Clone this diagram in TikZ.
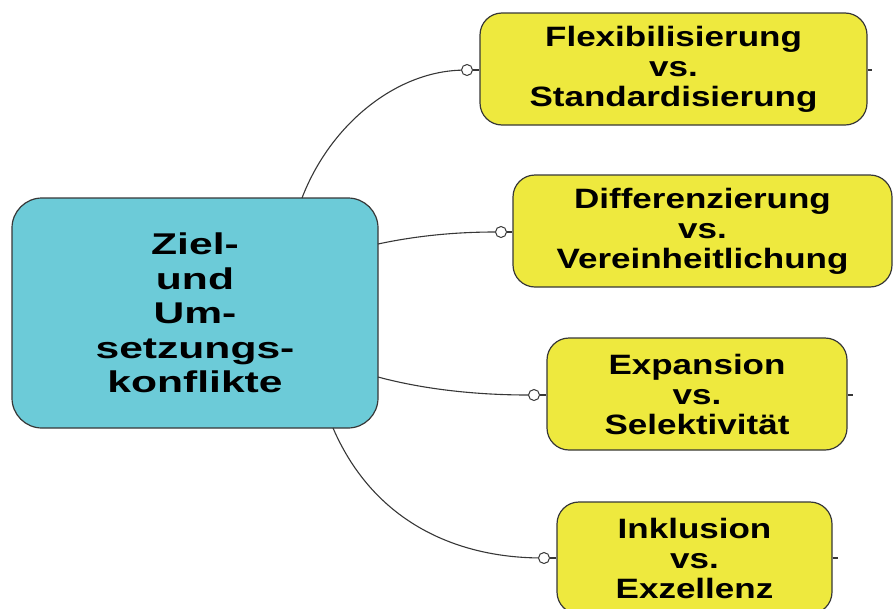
\documentclass[tikz,border=0pt]{standalone}
\usepackage{fontspec}
\setmainfont{Liberation Sans}
\newfontfamily\yfont[FakeStretch=1.25]{Liberation Sans}
\newfontfamily\mfont[FakeStretch=1.42]{Liberation Sans}
\definecolor{teal1}{RGB}{108,203,216}
\definecolor{yel1}{RGB}{238,233,62}
\definecolor{bord}{RGB}{55,55,55}
\begin{document}
\begin{tikzpicture}[x=1pt,y=1pt,
  mainbox/.style={draw=bord,line width=1.2pt,fill=teal1,rounded corners=30pt,
    minimum width=366pt,minimum height=230pt,inner sep=0pt,align=center,
    font=\mfont\bfseries\fontsize{30}{34.5}\selectfont},
  ybox/.style={draw=bord,line width=1.2pt,fill=yel1,rounded corners=22pt,
    minimum height=112pt,inner sep=0pt,align=center,
    font=\yfont\bfseries\fontsize{28}{30}\selectfont},
  knob/.style={circle,draw=bord,fill=white,line width=1pt,minimum size=11pt,inner sep=0pt},
  conn/.style={draw=bord,line width=1.1pt}]
\useasboundingbox (0,0) rectangle (893,-608);
\node[mainbox] (m) at (195,-313) {Ziel-\\und\\Um-\\setzungs-\\konflikte};
\node[ybox,minimum width=387pt] (b1) at (673.5,-69) {Flexibilisierung\\vs.\\Standardisierung};
\node[ybox,minimum width=379pt] (b2) at (702.5,-231) {Differenzierung\\vs.\\Vereinheitlichung};
\node[ybox,minimum width=300pt] (b3) at (697,-394) {Expansion\\vs.\\Selektivität};
\node[ybox,minimum width=275pt] (b4) at (694.5,-558) {Inklusion\\vs.\\Exzellenz};
\node[knob] (c1) at (467,-70) {};
\node[knob] (c2) at (501,-232) {};
\node[knob] (c3) at (534,-395) {};
\node[knob] (c4) at (544,-558) {};
\coordinate (s1) at (302,-198);
\coordinate (s2) at (378,-244);
\coordinate (s3) at (378,-377);
\coordinate (s4) at (333,-428);
\coordinate (e1) at (872,-70);
\coordinate (e3) at (853,-395);
\coordinate (e4) at (838,-558);
\draw[conn] (s1) .. controls (330,-125) and (395,-72) .. (c1);
\draw[conn] (s2) .. controls (420,-235) and (460,-232) .. (c2);
\draw[conn] (s3) .. controls (430,-391) and (485,-395) .. (c3);
\draw[conn] (s4) .. controls (375,-525) and (460,-557) .. (c4);
\draw[conn] (c1) -- (b1.west |- c1);
\draw[conn] (c2) -- (b2.west |- c2);
\draw[conn] (c3) -- (b3.west |- c3);
\draw[conn] (c4) -- (b4.west |- c4);
\draw[conn] (b1.east |- e1) -- (e1);
\draw[conn] (b3.east |- e3) -- (e3);
\draw[conn] (b4.east |- e4) -- (e4);
\end{tikzpicture}
\end{document}
